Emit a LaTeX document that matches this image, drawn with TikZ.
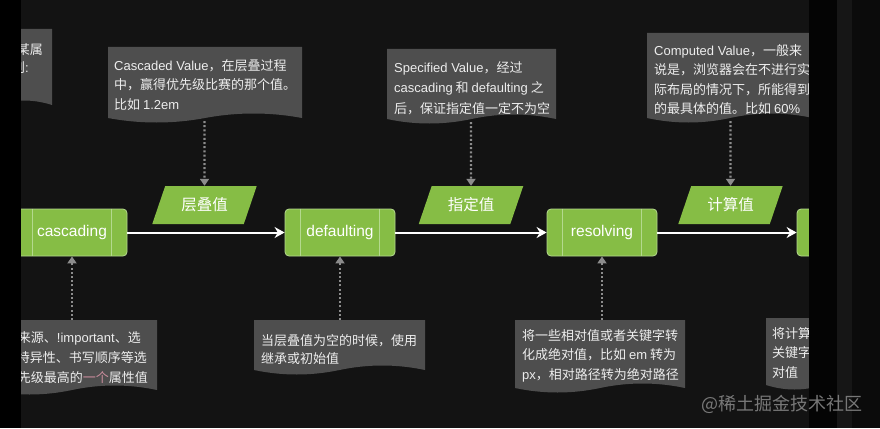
\documentclass[tikz,border=0pt]{standalone}
\usepackage{fontspec}
\setmainfont{Noto Sans CJK SC}
\newfontfamily\lat{Liberation Sans}
\usetikzlibrary{arrows.meta,shapes.geometric}
\definecolor{bg}{HTML}{131313}
\definecolor{docfill}{HTML}{4E4E4E}
\definecolor{leaf}{HTML}{86BD45}
\definecolor{leafline}{HTML}{B4D98E}
\definecolor{txt}{HTML}{EDEDED}
\definecolor{dots}{HTML}{8C8C8C}
\definecolor{pinkish}{HTML}{C98C9C}
\definecolor{stripA}{HTML}{040404}
\definecolor{stripB}{HTML}{161616}
\definecolor{stripC}{HTML}{0B0B0B}
\definecolor{wmark}{HTML}{8A8A8A}
\newcommand\docshape[4]{%
  \pgfmathsetmacro\docW{(#3-#1)/6}%
  \pgfmathsetmacro\docM{(#1+#3)/2}%
  \fill[docfill] (#1,#2) -- (#3,#2) -- (#3,#4)
    .. controls (#3-\docW,#4-6) and (\docM+\docW,#4-6) .. (\docM,#4)
    .. controls (\docM-\docW,#4+6) and (#1+\docW,#4+6) .. (#1,#4) -- cycle;}
\begin{document}
\begin{tikzpicture}[x=1pt,y=-1pt,
  proc/.style={rectangle, rounded corners=4pt, fill=leaf, draw=leafline, line width=0.8pt,
    minimum width=110pt, minimum height=47pt, text=white, font=\lat\fontsize{15.5}{17}\selectfont, inner sep=0pt},
  para/.style={trapezium, trapezium left angle=62, trapezium right angle=118, trapezium stretches=true,
    minimum width=105pt, minimum height=38pt, fill=leaf, text=white, font=\fontsize{15.5}{17}\selectfont, inner sep=0pt},
  doctext/.style={text=txt, font=\fontsize{13}{19.5}\selectfont, align=left, inner sep=0pt, anchor=north west},
  docline/.style={text=txt, font=\fontsize{13}{19.5}\selectfont, inner sep=0pt, anchor=base east},
  inner/.style={draw=leafline, line width=0.8pt},
  flow/.style={draw=white, line width=2pt, -{Stealth[length=10pt,width=11pt]}},
  hint/.style={draw=dots, line width=2.2pt, dash pattern=on 2pt off 2.2pt, -{Triangle[length=7pt,width=9pt]}}]
\useasboundingbox (0,0) rectangle (880,428);
\fill[bg] (0,0) rectangle (880,428);

% process boxes
\node[proc] (cas) at (72,232.5) {cascading};
\node[proc] (def) at (340,232.5) {defaulting};
\node[proc] (res) at (602,232.5) {resolving};
\node[proc] (nxt) at (852,232.5) {};
\foreach \n in {cas,def,res,nxt}{
  \draw[inner] ([xshift=16pt]\n.north west) -- ([xshift=16pt]\n.south west);
  \draw[inner] ([xshift=-16pt]\n.north east) -- ([xshift=-16pt]\n.south east);
}

% values
\node[para] (p1) at (204.5,205) {层叠值};
\node[para] (p2) at (471,205) {指定值};
\node[para] (p3) at (730.5,205) {计算值};

% flow arrows
\draw[flow] (cas.east) -- (def.west);
\draw[flow] (def.east) -- (res.west);
\draw[flow] (res.east) -- (nxt.west);

% top documents
\docshape{-60}{29}{52}{105}
\node[docline] (tl1) at (43,55) {的某属};
\node[docline] (tl2) at (29,72) {则{\lat :}};

\docshape{108}{47}{302}{118}
\node[doctext] (t1) at (114,59) {{\lat Cascaded Value}，在层叠过程\\中，赢得优先级比赛的那个值。\\比如 {\lat 1.2em}};
\coordinate (d1) at (204.5,121);
\draw[hint] (d1) -- (p1.north);

\docshape{387}{49}{556}{119}
\node[doctext, font=\fontsize{13}{20.5}\selectfont] (t2) at (394,61) {{\lat Specified Value}，经过\\{\lat cascading} 和 {\lat defaulting} 之\\后，保证指定值一定不为空};
\coordinate (d2) at (471,122);
\draw[hint] (d2) -- (p2.north);

\docshape{647}{33}{813}{118}
\node[doctext] (t3) at (654,44) {{\lat Computed Value}，一般来\\说是，浏览器会在不进行实\\际布局的情况下，所能得到\\的最具体的值。比如 {\lat 60\%}};
\coordinate (d3) at (730.5,121);
\draw[hint] (d3) -- (p3.north);

% bottom documents
\docshape{-13}{320}{157}{390}
\node[docline] (b1a) at (141,342) {样式来源、{\lat !important}、选};
\node[docline] (b1b) at (147,362) {择器特异性、书写顺序等选};
\node[docline] (b1c) at (148,382) {出优先级最高的{\color{pinkish}一个}属性值};
\coordinate (u1) at (72,320);
\draw[hint] (u1) -- (cas.south);

\docshape{254}{320}{425}{370}
\node[doctext, font=\fontsize{13}{18}\selectfont] (b2) at (261,334) {当层叠值为空的时候，使用\\继承或初始值};
\coordinate (u2) at (340,320);
\draw[hint] (u2) -- (def.south);

\docshape{515}{320}{685}{388}
\node[doctext] (b3) at (522,329) {将一些相对值或者关键字转\\化成绝对值，比如 {\lat em} 转为\\{\lat px}，相对路径转为绝对路径};
\coordinate (u3) at (602,320);
\draw[hint] (u3) -- (res.south);

\docshape{766}{318}{880}{385}
\node[doctext] (b4) at (772,327) {将计算\\关键字\\对值};

% screen edges
\fill[black] (0,0) rectangle (21,428);
\fill[stripA] (809,0) rectangle (837,428);
\fill[stripB] (837,0) rectangle (852,428);
\fill[stripC] (852,0) rectangle (880,428);

\node[text=wmark, opacity=0.85, font=\fontsize{18}{20}\selectfont, inner sep=0pt] (wm) at (782,404) {@稀土掘金技术社区};
\end{tikzpicture}
\end{document}
